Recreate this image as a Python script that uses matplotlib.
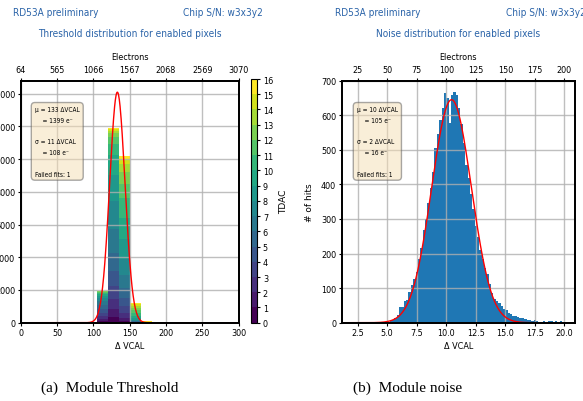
import numpy as np
import matplotlib; matplotlib.use("Agg")
import matplotlib.pyplot as plt
import matplotlib.font_manager as fm
from matplotlib.colors import ListedColormap, BoundaryNorm
from matplotlib.cm import ScalarMappable

# pick the narrowest sans font we have (the reference text is condensed)
_have = {(f.name, f.stretch) for f in fm.fontManager.ttflist}
if any(n == 'Liberation Sans Narrow' for n, _ in _have):
    NFAM, NSTR = 'Liberation Sans Narrow', 'normal'
elif any(n == 'DejaVu Sans' and s == 'condensed' for n, s in _have):
    NFAM, NSTR = 'DejaVu Sans', 'condensed'
else:
    NFAM, NSTR = 'Liberation Sans', 'normal'
NARROW = dict(family=[NFAM, 'DejaVu Sans'], stretch=NSTR)
BLUE_TXT = '#2a63a8'

# ---- threshold (left) : stacked histogram by TDAC, bins of 15 dVCAL
thr_bin_lo = [90, 105, 120, 135, 150, 165, 180]
thr_bin_w = 15
# rows: bins, cols: TDAC 0..15
thr_counts = [
    [0, 0, 0, 0, 0, 0, 0, 0, 0, 0, 0, 0, 0, 0, 10, 30],
    [80, 120, 180, 220, 250, 250, 220, 180, 140, 110, 80, 60, 40, 20, 7, 5],
    [350, 500, 600, 800, 900, 1100, 1500, 1700, 1600, 1200, 700, 400, 250, 150, 100, 67],
    [100, 200, 300, 400, 500, 600, 800, 1000, 1200, 1300, 1200, 900, 700, 500, 300, 200],
    [5, 5, 10, 15, 20, 30, 40, 60, 100, 150, 180, 170, 140, 120, 90, 73],
    [0, 0, 0, 0, 0, 0, 0, 0, 0, 0, 0, 0, 10, 20, 30, 60],
    [0, 0, 0, 0, 0, 0, 0, 0, 0, 0, 0, 0, 0, 0, 10, 50],
]
thr_fit = dict(amp=14100, mu=133.0, sigma=10.5)
thr_ticks = [0, 50, 100, 150, 200, 250, 300]
thr_e_labels = ['64', '565', '1066', '1567', '2068', '2569', '3070']
thr_box = 'μ = 133 ΔVCAL\n    = 1399 e⁻\n\nσ = 11 ΔVCAL\n    = 108 e⁻\n\nFailed fits: 1'

# ---- noise (right)
noise_edges = np.round(np.arange(4.8, 20.01, 0.2), 2)
noise_counts = [2, 3, 5, 8, 14, 22,
                44, 45, 64, 66, 88,
                110, 125, 146, 185, 215,
                268, 300, 345, 390, 435,
                505, 545, 585, 620, 664,
                650, 577, 660, 668, 659,
                620, 575, 520, 455, 420,
                372, 330, 280, 248, 210,
                185, 158, 140, 112, 85,
                70, 62, 58, 48, 40,
                36, 28, 24, 20, 18,
                16, 14, 14, 10, 8,
                8, 6, 9, 5, 3,
                2, 5, 0, 5, 4,
                0, 5, 2, 4, 0]
noise_fit = dict(amp=645, mu=10.45, sigma=1.68)
noise_ticks = [2.5, 5.0, 7.5, 10.0, 12.5, 15.0, 17.5, 20.0]
noise_e_labels = ['25', '50', '75', '100', '125', '150', '175', '200']
noise_box = 'μ = 10 ΔVCAL\n    = 105 e⁻\n\nσ = 2 ΔVCAL\n    = 16 e⁻\n\nFailed fits: 1'

W, H = 583, 402
fig = plt.figure(figsize=(W / 100, H / 100), dpi=100)
rend = fig.canvas.get_renderer()

# scale the narrow font from the title width (compromise between width and height)
_t = fig.text(0, 0, 'Threshold distribution for enabled pixels', fontsize=10, **NARROW)
K = 10 * 182 / _t.get_window_extent(rend).width / 8.0
_t.remove()
FS_HEAD, FS_TICK, FS_BOX = 8 * K, 7.2 * K, 4.7

def px(x0, y0, x1, y1):
    return [x0 / W, 1 - y1 / H, (x1 - x0) / W, (y1 - y0) / H]

def gauss(x, amp, mu, sigma):
    return amp * np.exp(-0.5 * ((x - mu) / sigma) ** 2)

def style(ax, ticks, e_labels, xlim):
    ax.set_xlim(*xlim)
    ax.set_xticks(ticks)
    ax.grid(True, color='#b0b0b0', lw=1.0, alpha=0.8)
    for s in ax.spines.values():
        s.set_linewidth(1.3)
    ax.tick_params(labelsize=FS_TICK, length=2.2, pad=1.8)
    for lb in ax.get_xticklabels() + ax.get_yticklabels():
        lb.set_family(NARROW['family']); lb.set_stretch(NSTR)
    ax.set_xlabel('Δ VCAL', fontsize=FS_TICK, labelpad=2.5, **NARROW)
    top = ax.twiny()
    top.set_xlim(ax.get_xlim())
    top.set_xticks(ticks)
    top.set_xticklabels(e_labels, fontsize=FS_TICK, **NARROW)
    top.tick_params(length=2.2, pad=2.5)
    top.set_xlabel('Electrons', fontsize=FS_TICK, labelpad=4.5, **NARROW)
    for s in top.spines.values():
        s.set_linewidth(1.3)

def box(ax, txt):
    ax.text(0.065, 0.895, txt, transform=ax.transAxes, va='top', ha='left',
            fontsize=FS_BOX, linespacing=1.95, **NARROW,
            bbox=dict(boxstyle='round,pad=0.55', facecolor='wheat', alpha=0.5, edgecolor='#555555'))

# ---------- left panel
ax1 = fig.add_axes(px(20.7, 81.7, 238.7, 323.7))
cmap = ListedColormap(plt.cm.viridis(np.linspace(0, 1, 16)))
norm = BoundaryNorm(np.arange(17), 16)
counts = np.array(thr_counts, dtype=float)
bottom = np.zeros(len(thr_bin_lo))
for k in range(16):
    ax1.bar(thr_bin_lo, counts[:, k], width=thr_bin_w, bottom=bottom, align='edge',
            color=cmap(k), linewidth=0)
    bottom += counts[:, k]
xf = np.linspace(0, 300, 600)
ax1.plot(xf, gauss(xf, **thr_fit), color='red', lw=1.0)
ax1.set_ylim(0, 14800)
ax1.set_yticks(range(0, 14001, 2000))
style(ax1, thr_ticks, thr_e_labels, (0, 300))
box(ax1, thr_box)

cax = fig.add_axes(px(251, 80, 257.3, 323.7))
cb = fig.colorbar(ScalarMappable(norm=norm, cmap=cmap), cax=cax, ticks=range(17))
cb.ax.tick_params(labelsize=FS_TICK, length=2.2, pad=1.8)
for lb in cb.ax.get_yticklabels():
    lb.set_family(NARROW['family']); lb.set_stretch(NSTR)
cb.set_label('TDAC', fontsize=6.5, labelpad=4)
cb.outline.set_linewidth(0.8)

# ---------- right panel
ax2 = fig.add_axes(px(341.7, 81.7, 575, 323.7))
ax2.stairs(noise_counts, noise_edges, fill=True, color='#1f77b4')
xn = np.linspace(1.15, 20.9, 600)
ax2.plot(xn, gauss(xn, **noise_fit), color='red', lw=1.0)
ax2.set_ylim(0, 700)
ax2.set_yticks(range(0, 701, 100))
style(ax2, noise_ticks, noise_e_labels, (1.15, 20.9))
ax2.set_xticklabels([f'{t:.1f}' for t in noise_ticks], fontsize=FS_TICK, **NARROW)
ax2.set_ylabel('# of hits', fontsize=6.5, labelpad=5)
box(ax2, noise_box)

# ---------- header texts
for x_l, x_r, x_c, title in [(13, 263, 129.7, 'Threshold distribution for enabled pixels'),
                             (335, 586, 458.3, 'Noise distribution for enabled pixels')]:
    fig.text(x_l / W, 1 - 13 / H, 'RD53A preliminary', color=BLUE_TXT, fontsize=FS_HEAD,
             ha='left', va='center', **NARROW)
    fig.text(x_r / W, 1 - 13 / H, 'Chip S/N: w3x3y2', color=BLUE_TXT, fontsize=FS_HEAD,
             ha='right', va='center', **NARROW)
    fig.text(x_c / W, 1 - 34 / H, title, color=BLUE_TXT, fontsize=FS_HEAD,
             ha='center', va='center', **NARROW)

cap = dict(family=['Liberation Serif', 'DejaVu Serif'], fontsize=11, ha='center', va='center')
fig.text(110 / W, 1 - 388 / H, '(a)  Module Threshold', **cap)
fig.text(408 / W, 1 - 388 / H, '(b)  Module noise', **cap)

fig.savefig('out.png', dpi=100)
